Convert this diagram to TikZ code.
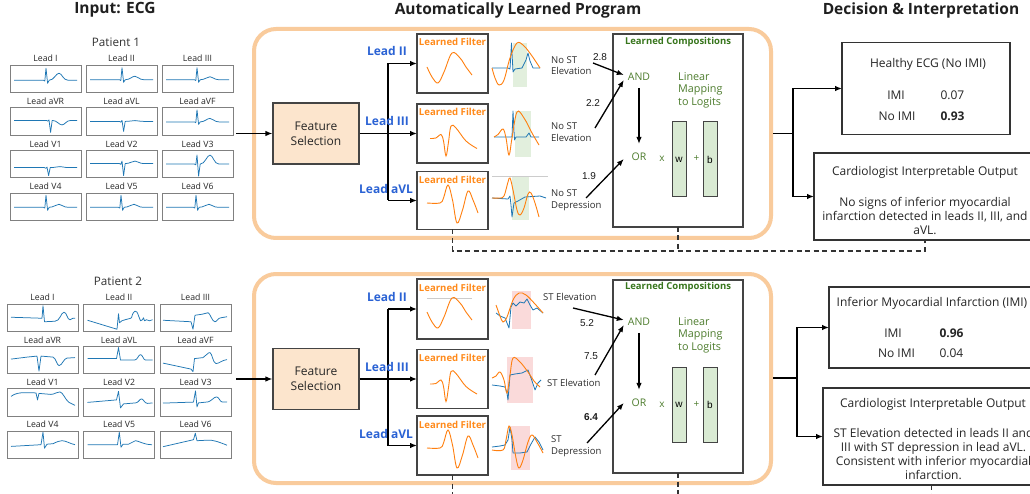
\documentclass[tikz,border=0pt]{standalone}
\usepackage{fontspec}
\setmainfont{Open Sans}
\newfontfamily\numfont{Liberation Sans}
\usetikzlibrary{arrows.meta,calc}
\definecolor{ecgblue}{HTML}{1F77B4}
\definecolor{plotorange}{HTML}{FF7F0E}
\definecolor{framecol}{HTML}{F9CB9C}
\definecolor{fsfill}{HTML}{FCE5CD}
\definecolor{leadblue}{HTML}{2A62D4}
\definecolor{forange}{HTML}{FF8A1A}
\definecolor{cgreen}{HTML}{38761D}
\definecolor{lgreen}{HTML}{4E7D2E}
\definecolor{barfill}{HTML}{D9EAD3}
\definecolor{shgreen}{HTML}{E2EFDD}
\definecolor{shpink}{HTML}{FADADA}
\definecolor{boxgray}{HTML}{444444}
\newcommand\fz[2]{\fontsize{#1}{#2}\selectfont}
% generic ECG beat: x0, mid, baseline, spike x, R up, S down, T up
\newcommand\nw[7]{\begin{scope}[shift={(#1,#2)}]
\draw[ecg] (4,{#3}) -- ({#4-2.5},{#3}) -- ({#4-1.2},{#3+0.8}) -- ({#4},{#3-(#5)}) -- ({#4+1.6},{#3+(#6)}) -- ({#4+3.2},{#3}) .. controls ({#4+8},{#3}) and ({#4+10},{#3-(#7)}) .. ({#4+13},{#3-(#7)}) .. controls ({#4+16},{#3-(#7)}) and ({#4+17},{#3}) .. ({#4+22},{#3}) -- (67,{#3});
\end{scope}}
\newcommand\cw[3]{\draw[ecg,shift={(#1,#2)}] #3;}
\newcommand\filterA{\draw[filt] plot[smooth,tension=0.6] coordinates {(427,67) (432,77) (438,83) (444,72) (452,53) (460,58) (466,67) (472,75)};}
\newcommand\filterB{\draw[filt] plot[smooth,tension=0.6] coordinates {(430,138.5) (436,138) (441,134.5) (443.5,141) (446,156) (448.5,142) (451,126) (456,128) (466,141) (477,148.5)};}
\newcommand\filterC{\draw[filt] plot[smooth,tension=0.6] coordinates {(427,203) (440,203) (443.5,198) (448,185) (452.5,200) (457,223) (462.5,210) (468,191) (473,200) (478,213)};}
\begin{document}
\begin{tikzpicture}[x=1pt,y=-1pt,
  hdr/.style={font=\bfseries\fz{15.5}{18}, text=black!88},
  ptl/.style={font=\fz{11.7}{14}, text=black!80},
  ecgbox/.style={draw=black!50, line width=0.9pt, minimum width=71pt, minimum height=27.5pt, inner sep=0pt, outer sep=0pt, anchor=north west},
  ecglab/.style={font=\fz{8.7}{10}, text=black!85},
  ecg/.style={draw=ecgblue, line width=0.75pt, line join=round},
  filt/.style={draw=plotorange, line width=0.9pt},
  pblue/.style={draw=ecgblue, line width=0.8pt, line join=round},
  frame/.style={draw=framecol, line width=4pt, rounded corners=22pt},
  fsbox/.style={draw=boxgray, line width=1.1pt, fill=fsfill, minimum width=86pt, minimum height=61pt, align=center, font=\fz{12}{15}, text=black!85},
  fbox/.style={draw=boxgray, line width=1.5pt, fill=white, minimum width=71pt, inner sep=0pt, outer sep=0pt},
  ftitle/.style={font=\bfseries\fz{9.6}{11}, text=forange},
  leadlab/.style={font=\bfseries\fz{12}{14}, text=leadblue},
  stlab/.style={font=\fz{9.5}{11.5}, text=black!82, align=left, anchor=west, inner sep=0pt},
  wlab/.style={font=\numfont\fz{10}{12}, text=black!90},
  logic/.style={font=\fz{10.5}{12}, text=lgreen, minimum width=30pt, inner sep=3pt},
  cbox/.style={draw=boxgray, line width=1.1pt, minimum width=130pt, minimum height=193pt, inner sep=0pt, outer sep=0pt},
  ctitle/.style={font=\bfseries\fz{9.5}{11}, text=cgreen},
  lmap/.style={font=\fz{10.8}{12.6}, text=lgreen, align=left, anchor=west, inner sep=0pt},
  bar/.style={draw=boxgray, line width=1pt, fill=barfill, minimum width=14pt, minimum height=75pt, inner sep=0pt, font=\numfont\fz{10}{12}},
  op/.style={font=\fz{10}{12}, text=lgreen},
  rbox/.style={draw=black!80, line width=1.1pt, inner sep=0pt, outer sep=0pt},
  rtxt/.style={font=\fz{12}{14}, text=black!85},
  body/.style={font=\fz{12}{14}, text=black!85, align=center},
  conn/.style={draw=black, line width=1.3pt},
  arr/.style={draw=black, line width=1.3pt, -{Latex[length=7pt,width=5.5pt]}},
  dashline/.style={draw=black!80, line width=1.5pt, dash pattern=on 5pt off 3.5pt}
]
\useasboundingbox (0,0) rectangle (1030,494);
\clip (0,0) rectangle (1030,494);
\fill[white] (0,0) rectangle (1030,494);

% headers
\node[hdr] (hIn) at (115,10) {Input: ECG};
\node[hdr] (hProg) at (518,10) {Automatically Learned Program};
\node[hdr] (hDec) at (921,10) {Decision \& Interpretation};

% ===== ECG panels =====
\node[ptl] (p1) at (116,42) {Patient 1};
\node[ptl] (p2) at (118,281) {Patient 2};
\foreach \lab [count=\i from 0] in {I,II,III,aVR,aVL,aVF,V1,V2,V3,V4,V5,V6}{
  \pgfmathtruncatemacro\rr{floor(\i/3)}
  \pgfmathtruncatemacro\cc{\i-3*\rr}
  \pgfmathsetmacro\xa{10+76*\cc}
  \pgfmathsetmacro\ya{65+42.67*\rr}
  \node[ecgbox] (ea\i) at (\xa,\ya) {};
  \node[ecglab] (la\i) at (\xa+35.5,\ya-6.3) {Lead \lab};
  \pgfmathsetmacro\xb{7+76.5*\cc}
  \pgfmathsetmacro\yb{304+42.33*\rr}
  \node[ecgbox] (eb\i) at (\xb,\yb) {};
  \node[ecglab] (lb\i) at (\xb+35.5,\yb-6.3) {Lead \lab};
}
% patient 1 waves
\nw{10}{78.75}{1.5}{36}{12}{3}{7}
\nw{86}{78.75}{1}{36}{12}{2.5}{3.5}
\nw{162}{78.75}{1}{35}{12}{2.5}{3}
\nw{10}{121.4}{-1}{39}{0.5}{12}{-4.5}
\nw{86}{121.4}{0}{36}{1}{10}{0.8}
\nw{162}{121.4}{0.5}{35}{12}{2.5}{3.5}
\nw{10}{164.1}{3.5}{37}{0.5}{8}{1}
\nw{86}{164.1}{-0.5}{36}{2.5}{12}{2.5}
\nw{162}{164.1}{0}{35}{9}{12}{9}
\nw{10}{206.8}{0.5}{36}{12}{3}{3}
\nw{86}{206.8}{0.5}{35}{12}{3}{3}
\nw{162}{206.8}{0.5}{34}{12}{3}{3}
% patient 2 waves
\cw{7}{317.75}{(4,-0.5) -- (20,0) -- (35,0.5) -- (36,-12) -- (37.5,4) -- (48,3.5) .. controls (53,3.5) and (54,-5.5) .. (57,-5.5) .. controls (60,-5.5) and (60,2) .. (63,2) -- (66,0.5) -- (68,0.5)}
\cw{83.5}{317.75}{(4,2.5) -- (33.5,11.5) -- (35,-4) -- (36,5) -- (38.5,3) .. controls (44,1) and (47,1) .. (48,0) .. controls (50,-8) and (53,-9) .. (55,-2) -- (57,3) -- (59,2) -- (60,0) -- (61,3) -- (63,2) -- (66,3) -- (69,2)}
\cw{160}{317.75}{(3,2.5) -- (31,4) -- (33,11.5) -- (35,-2.5) -- (42,-3.5) -- (48,-5) .. controls (50,-5) and (52,4) .. (55,4) .. controls (57,4) and (58,0) .. (61,0) -- (67,-1)}
\cw{7}{360.1}{(4,-1) -- (12,-2) -- (20,-3) -- (30,-4) -- (32,11) -- (34,-4) -- (46,-3) .. controls (49,-2) and (50,5.5) .. (52,5.5) .. controls (55,5.5) and (57,-2) .. (60,-2) -- (68,-2.5)}
\cw{83.5}{360.1}{(4,-1.5) -- (33,-1.5) -- (35,-12.5) -- (37,0) -- (51,0) .. controls (54,0) and (55,-5.5) .. (57,-5.5) .. controls (59,-5.5) and (60,0) .. (62,0) -- (69,0)}
\cw{160}{360.1}{(3,3) -- (31,9) -- (33,11.5) -- (34.5,-1.5) -- (43,-2.5) .. controls (46,-4) and (48,-8) .. (50,-7.5) .. controls (52,-7) and (53,3) .. (56,3.5) .. controls (59,3.5) and (62,0) .. (67,-0.5)}
\cw{7}{402.4}{(4,-6) .. controls (8,-9) and (12,-9.7) .. (18,-9.7) -- (29,-9.5) -- (30.5,-2.5) -- (32,-9) -- (44,-8) .. controls (48,-8) and (50,-11) .. (53,-10.5) .. controls (56,-10) and (58,-3) .. (62,0) -- (68,3)}
\cw{83.5}{402.4}{(4,0) -- (33,-2.5) -- (35,-11) -- (37,5.5) -- (40,1.5) -- (52,0.5) .. controls (55,0.5) and (56,-3.5) .. (58,-3.5) .. controls (60,-3.5) and (61,1) .. (64,1) -- (69,0.5)}
\cw{160}{402.4}{(3,0.7) -- (33.5,-0.3) -- (35.5,-11.5) -- (37,4.5) -- (38.5,0.5) -- (48,-0.5) .. controls (51,-1) and (54,-5.5) .. (56.5,-5.5) .. controls (59,-5.5) and (60,-0.5) .. (62,-0.5) -- (67,-0.3)}
\cw{7}{444.7}{(4,1.7) -- (34,0) -- (36,-12.5) -- (37.5,3.5) -- (40,-0.5) -- (46,-1) .. controls (50,-3) and (53,-4) .. (55,-4) .. controls (59,-4) and (63,-1) .. (68,0)}
\cw{83.5}{444.7}{(4,0) -- (34,0) -- (35.8,-12.5) -- (37.5,2.5) -- (39.5,-0.5) -- (45,-0.5) .. controls (48,-1) and (50,-4) .. (52,-4) .. controls (55,-4) and (60,0) .. (68.5,0)}
\cw{160}{444.7}{(3,2) -- (33.5,-5) -- (35.3,-11.5) -- (37,-4) -- (47,-4.5) .. controls (53,-5) and (58,-3) .. (67,0.5)}

% ===== program frames =====
\draw[frame] (254,29) rectangle (771,238);
\draw[frame] (254,274) rectangle (771,483);

% ----- top program -----
\node[fsbox] (fs1) at (316,133.5) {Feature\\Selection};
\coordinate (in1) at (236,133.5);
\draw[arr] (in1) -- (fs1.west);
\node[fbox, minimum height=59pt] (f1a) at (452.5,63.5) {};
\node[fbox, minimum height=59pt] (f1b) at (452.5,133.5) {};
\node[fbox, minimum height=58pt] (f1c) at (452.5,200.5) {};
\node[ftitle] (ft1a) at (452.5,42) {Learned Filter};
\node[ftitle] (ft1b) at (452.5,111.5) {Learned Filter};
\node[ftitle] (ft1c) at (452.5,180) {Learned Filter};
\filterA \filterB \filterC
\coordinate (b1t) at (388,63.5);
\coordinate (b1b) at (388,200.5);
\draw[conn] (b1t) -- (b1b);
\draw[arr] (fs1.east) -- (f1b.west);
\draw[arr] (b1t) -- (f1a.west);
\draw[arr] (b1b) -- (f1c.west);
\node[leadlab] (ll1a) at (387,51) {Lead II};
\node[leadlab] (ll1b) at (387,121) {Lead III};
\node[leadlab] (ll1c) at (386,189) {Lead aVL};

% overlays top
\fill[shgreen] (513,43) rectangle (527,87);
\draw[pblue] (492,68) -- (508,68) -- (510,69) -- (511.5,43) -- (513,72) -- (515,69) -- (522,68) -- (526,60) -- (528,53) -- (530,61) -- (533,68) -- (540,68);
\draw[filt] plot[smooth,tension=0.6] coordinates {(492,68) (495,78) (499,85) (504,80) (510,58) (517,43) (524,46) (532,56) (540,68)};
\fill[shgreen] (515,111) rectangle (531,157);
\draw[pblue] (494,137) -- (512,137) -- (513,111) -- (514.5,140) -- (516,137) -- (526,137) -- (529,133) -- (531,137) -- (539,137);
\draw[filt] plot[smooth,tension=0.6] coordinates {(494,137) (498,134.5) (503,129) (506,138) (509,155) (512,138) (517,112) (524,118) (532,133) (539,145)};
\draw[black!20, line width=0.7pt] (492,176) -- (548,176);
\fill[shgreen] (512,177) rectangle (529,220);
\draw[pblue] (492,198) -- (508,199) -- (510,196) -- (511,205) -- (512,217) -- (514,203) -- (518,201) -- (525,197) -- (540,196) -- (546,198);
\draw[filt] plot[smooth,tension=0.6] coordinates {(492,198) (500,198) (504,196) (508,182) (510,178) (513,190) (517,210) (520,215) (524,208) (528,194) (531,193) (535,203) (539,217)};

% labels, weights, logic top
\node[stlab] (s1a) at (551,65.5) {No ST\\Elevation};
\node[stlab] (s1b) at (551,132) {No ST\\Elevation};
\node[stlab] (s1c) at (551,200) {No ST\\Depression};
\node[wlab] (w1a) at (600,57) {2.8};
\node[wlab] (w1b) at (593,103) {2.2};
\node[wlab] (w1c) at (589,176) {1.9};
\node[cbox] (comp1) at (678,130.5) {};
\node[ctitle] (ct1) at (678,42) {Learned Compositions};
\node[logic] (and1) at (639,77) {AND};
\node[logic] (or1) at (639,157) {OR};
\coordinate (a1s) at (593,63);
\coordinate (a1t) at (595,128);
\coordinate (a1u) at (586,198);
\draw[arr] (a1s) -- ([yshift=2pt]and1.west);
\draw[arr] (a1t) -- ([yshift=-3pt]and1.west);
\draw[arr] (a1u) -- ([yshift=-2pt]or1.west);
\draw[arr, shorten <=4pt, shorten >=6pt] (and1.south) -- (or1.north);
\node[lmap] (lm1) at (678,90) {Linear\\Mapping\\to Logits};
\node[bar] (wb1) at (679,159.5) {w};
\node[bar] (bb1) at (710,159.5) {b};
\node[op] (x1) at (662,159) {x};
\node[op] (pl1) at (696.5,159) {+};

% ----- bottom program -----
\node[fsbox] (fs2) at (316,379) {Feature\\Selection};
\coordinate (in2) at (236,379);
\draw[arr] (in2) -- (fs2.west);
\node[fbox, minimum height=60pt] (f2a) at (452.5,309) {};
\node[fbox, minimum height=59pt] (f2b) at (452.5,379) {};
\node[fbox, minimum height=59pt] (f2c) at (452.5,445.5) {};
\node[ftitle] (ft2a) at (452.5,288) {Learned Filter};
\node[ftitle] (ft2b) at (452.5,357.5) {Learned Filter};
\node[ftitle] (ft2c) at (452.5,425) {Learned Filter};
\draw[black!20, line width=0.7pt] (427,298) -- (472,298);
\begin{scope}[shift={(0,245)}]\filterA\end{scope}
\begin{scope}[shift={(0,245.5)}]\filterB\end{scope}
\begin{scope}[shift={(0,245)}]\filterC\end{scope}
\coordinate (b2t) at (388,309);
\coordinate (b2b) at (388,445.5);
\draw[conn] (b2t) -- (b2b);
\draw[arr] (fs2.east) -- (f2b.west);
\draw[arr] (b2t) -- (f2a.west);
\draw[arr] (b2b) -- (f2c.west);
\node[leadlab] (ll2a) at (387,297) {Lead II};
\node[leadlab] (ll2b) at (387,367) {Lead III};
\node[leadlab] (ll2c) at (386,434) {Lead aVL};

% overlays bottom
\fill[shpink] (512,291) rectangle (531,329);
\draw[pblue] (496,313) -- (500,316) -- (505,318) -- (509,328) -- (511,307) -- (513,303) -- (516,306) -- (520,302) -- (524,303) -- (527,299) -- (530,305) -- (533,310) -- (537,308) -- (543,313);
\draw[filt] plot[smooth,tension=0.6] coordinates {(496,305) (500,316) (503,322) (507,317) (513,300) (519,293) (526,295) (535,304) (543,313)};
\fill[shpink] (507,357) rectangle (533,403);
\draw[pblue] (492,385) -- (500,386) -- (505,387) -- (507,393) -- (508,400) -- (510,375) -- (515,374) -- (522,373) -- (528,370) -- (531,378) -- (535,390) -- (538,383) -- (541,380);
\draw[filt] plot[smooth,tension=0.6] coordinates {(492,378) (496,376) (500,372) (504,380) (507,393) (510,375) (513,358) (520,362) (528,372) (534,381) (540,387)};
\fill[shpink] (511,426) rectangle (530,470);
\draw[pblue] (492,447) -- (500,446) -- (505,445) -- (508,440) -- (510,427) -- (512,440) -- (513,453) -- (520,453) -- (527,452) -- (531,444) -- (535,437) -- (539,442) -- (543,450);
\draw[filt] plot[smooth,tension=0.6] coordinates {(492,450) (503,450) (506,440) (509,426) (512,435) (516,458) (519,468) (523,460) (528,442) (532,435) (537,442) (543,453)};

% labels, weights, logic bottom
\node[stlab] (s2a) at (543,297) {ST Elevation};
\node[stlab] (s2b) at (547,383) {ST Elevation};
\node[stlab] (s2c) at (551,446) {ST\\Depression};
\node[wlab] (w2a) at (587,323) {5.2};
\node[wlab] (w2b) at (591,356) {7.5};
\node[wlab, font=\numfont\bfseries\fz{10}{12}] (w2c) at (591,417) {6.4};
\node[cbox] (comp2) at (678,376.5) {};
\node[ctitle] (ct2) at (678,287) {Learned Compositions};
\node[logic] (and2) at (639,322) {AND};
\node[logic] (or2) at (639,403) {OR};
\coordinate (a2s) at (573,308);
\coordinate (a2t) at (595,375);
\coordinate (a2u) at (587,443);
\draw[arr] (a2s) -- ([yshift=2pt]and2.west);
\draw[arr] (a2t) -- ([yshift=-3pt]and2.west);
\draw[arr] (a2u) -- (or2.west);
\draw[arr, shorten <=4pt, shorten >=6pt] (and2.south) -- (or2.north);
\node[lmap] (lm2) at (678,335) {Linear\\Mapping\\to Logits};
\node[bar] (wb2) at (679,404.5) {w};
\node[bar] (bb2) at (710,404.5) {b};
\node[op] (x2) at (662,405) {x};
\node[op] (pl2) at (696.5,405) {+};

% ===== decisions =====
\node[rbox, minimum width=168pt, minimum height=92pt] (res1) at (926,88.5) {};
\node[rtxt] (r1t) at (928,64.5) {Healthy ECG (No IMI)};
\node[rtxt] (r1a) at (896,95) {IMI};
\node[rtxt, anchor=west] (r1av) at (937,95) {0.07};
\node[rtxt] (r1b) at (897,116) {No IMI};
\node[rtxt, anchor=west, font=\bfseries\fz{12}{14}] (r1bv) at (937,116) {0.93};
\node[rbox, minimum width=222pt, minimum height=87pt] (card1) at (925,196.5) {};
\node[rtxt] (c1t) at (925,172) {Cardiologist Interpretable Output};
\node[body] (c1b) at (925,215.5) {No signs of inferior myocardial\\infarction detected in leads II, III, and\\aVL.};
\coordinate (o1) at (773,133.5);
\coordinate (j1) at (793,133.5);
\draw[conn] (o1) -- (j1);
\draw[arr] (j1) |- (res1.west);
\draw[arr] (j1) |- (card1.west);

\node[rbox, minimum width=205pt, minimum height=81pt] (res2) at (931.5,327.5) {};
\node[rtxt] (r2t) at (932,303) {Inferior Myocardial Infarction (IMI)};
\node[rtxt] (r2a) at (893,333) {IMI};
\node[rtxt, anchor=west, font=\bfseries\fz{12}{14}] (r2av) at (936,333) {0.96};
\node[rtxt] (r2b) at (896.5,353) {No IMI};
\node[rtxt, anchor=west] (r2bv) at (936,353) {0.04};
\node[rbox, minimum width=217pt, minimum height=97pt] (card2) at (931.5,436.5) {};
\node[rtxt] (c2t) at (933,404) {Cardiologist Interpretable Output};
\node[body] (c2b) at (933.5,454.5) {ST Elevation detected in leads II and\\III with ST depression in lead aVL.\\Consistent with inferior myocardial\\infarction.};
\coordinate (o2) at (773,378);
\coordinate (j2) at (797,378);
\draw[conn] (o2) -- (j2);
\draw[arr] (j2) |- (res2.west);
\draw[arr] (j2) |- (card2.west);

% ===== dashed links =====
\coordinate (dl) at (0,251);
\draw[dashline] (f1c.south) |- (card1.south |- dl) -- (card1.south);
\draw[dashline] (comp1.south) -- (comp1.south |- dl);
\draw[dashline] (f2c.south) -- ++(0,25);
\draw[dashline] (comp2.south) -- ++(0,25);
\draw[dashline] (card2.south) -- ++(0,15);
\end{tikzpicture}
\end{document}
